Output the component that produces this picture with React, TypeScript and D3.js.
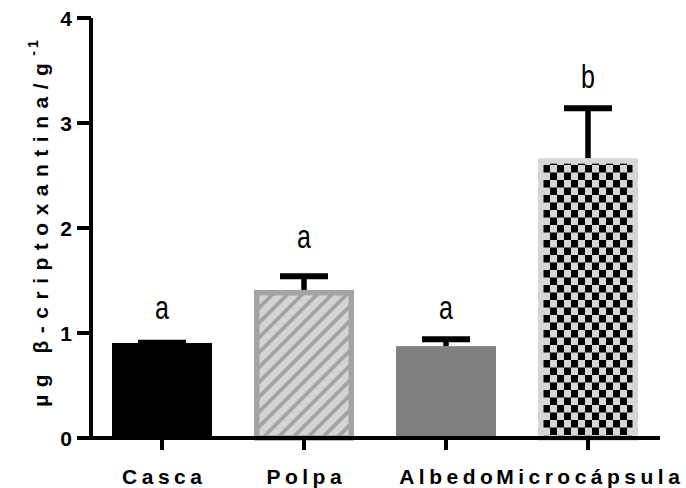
import React from "react";
import * as d3 from "d3";

const categories = ["Casca", "Polpa", "Albedo", "Microcápsula"];
const means = [0.905, 1.41, 0.875, 2.665];
const upperErrors = [0.908, 1.54, 0.94, 3.14];
const groupLetters = ["a", "a", "a", "b"];
const letterLevels = [1.13, 1.81, 1.13, 3.33];
const yTicks = [0, 1, 2, 3, 4];

const W = 686;
const H = 488;
const FONT = "'Liberation Sans', Arial, sans-serif";

export default function App() {
  const x = d3
    .scaleBand<string>()
    .domain(categories)
    .range([91, 659])
    .paddingInner(0.296)
    .paddingOuter(0.148);
  const y = d3.scaleLinear().domain([0, 4]).range([438, 18]);
  const bw = x.bandwidth();
  const capW = 48;
  const labelSpacing = 4.5;

  const fills = ["#000000", "url(#stripes)", "#808080", "url(#checks)"];
  const strokes = ["none", "#a3a3a3", "none", "#d6d6d6"];

  return (
    <svg
      width={W}
      height={H}
      style={{ position: "absolute", left: 0, top: 0, display: "block", background: "#fff" }}
    >
      <defs>
        <pattern
          id="stripes"
          patternUnits="userSpaceOnUse"
          width={10.5}
          height={10.5}
          patternTransform="rotate(45)"
        >
          <rect width={10.5} height={10.5} fill="#d4d4d4" />
          <rect width={3.8} height={10.5} fill="#a3a3a3" />
        </pattern>
        <pattern id="checks" patternUnits="userSpaceOnUse" width={14} height={15} x={543} y={165}>
          <rect width={14} height={15} fill="#d6d6d6" />
          <rect x={0} y={0} width={7} height={7.5} fill="#000" />
          <rect x={7} y={7.5} width={7} height={7.5} fill="#000" />
        </pattern>
      </defs>

      {/* bars */}
      {categories.map((c, i) => {
        const x0 = x(c)!;
        const top = y(means[i]);
        const bottom = y(0);
        const sw = strokes[i] === "none" ? 0 : 5.5;
        return (
          <rect
            key={c}
            x={x0 + sw / 2}
            y={top + sw / 2}
            width={bw - sw}
            height={bottom - top - sw / 2}
            fill={fills[i]}
            stroke={strokes[i]}
            strokeWidth={sw}
          />
        );
      })}

      {/* upper error bars */}
      {categories.map((c, i) => {
        const cx = x(c)! + bw / 2;
        return (
          <g key={c} stroke="#000" fill="none">
            <line x1={cx} x2={cx} y1={y(means[i])} y2={y(upperErrors[i])} strokeWidth={5.5} />
            <line
              x1={cx - capW / 2}
              x2={cx + capW / 2}
              y1={y(upperErrors[i])}
              y2={y(upperErrors[i])}
              strokeWidth={6}
            />
          </g>
        );
      })}

      {/* significance letters */}
      {categories.map((c, i) => {
        const cx = x(c)! + bw / 2;
        const by = y(letterLevels[i]);
        return (
          <text
            key={c}
            textAnchor="middle"
            fontFamily={FONT}
            fontSize={25}
            transform={`translate(${cx}, ${by}) scale(1, 1.3)`}
          >
            {groupLetters[i]}
          </text>
        );
      })}

      {/* y axis */}
      <g fontFamily={FONT} fontWeight="bold" fontSize={21}>
        <line x1={91} x2={91} y1={y(4)} y2={y(0) + 2} stroke="#000" strokeWidth={4} />
        {yTicks.map((t) => (
          <g key={t}>
            <line x1={77} x2={91} y1={y(t)} y2={y(t)} stroke="#000" strokeWidth={4} />
            <text x={72} y={y(t)} dy="0.36em" textAnchor="end">
              {t}
            </text>
          </g>
        ))}
      </g>

      {/* x axis */}
      <g fontFamily={FONT} fontWeight="bold" fontSize={21}>
        <line x1={89} x2={660} y1={y(0)} y2={y(0)} stroke="#000" strokeWidth={4} />
        {categories.map((c) => {
          const cx = x(c)! + bw / 2;
          return (
            <g key={c}>
              <line x1={cx} x2={cx} y1={y(0)} y2={y(0) + 12} stroke="#000" strokeWidth={4} />
              <text
                x={cx + labelSpacing / 2}
                y={484}
                textAnchor="middle"
                letterSpacing={labelSpacing}
              >
                {c}
              </text>
            </g>
          );
        })}
      </g>

      {/* y axis title */}
      <text
        transform={`translate(48, 222) rotate(-90)`}
        textAnchor="middle"
        fontFamily={FONT}
        fontWeight="bold"
        fontSize={21}
        letterSpacing={7.5}
      >
        µg β-criptoxantina/g
        <tspan dy={-10} fontSize={14} letterSpacing={3}>
          -1
        </tspan>
      </text>
    </svg>
  );
}
